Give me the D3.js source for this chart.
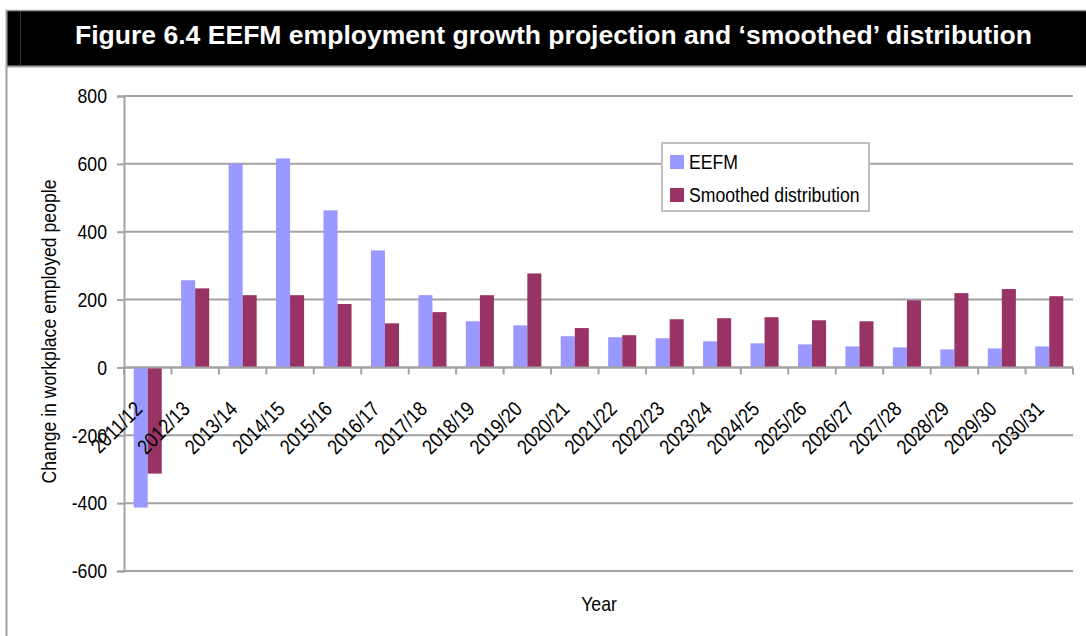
<!DOCTYPE html>
<html>
<head>
<meta charset="utf-8">
<script src="https://cdn.jsdelivr.net/npm/d3@7"></script>
<style>
  html, body { margin: 0; padding: 0; background: #ffffff; }
  svg { display: block; }
  text { font-family: "Liberation Sans", Arial, sans-serif; }
</style>
</head>
<body>
<svg id="chart" width="1086" height="636"></svg>
<script>
// Financial years on the category axis
const categories = ["2011/12", "2012/13", "2013/14", "2014/15", "2015/16", "2016/17", "2017/18",
  "2018/19", "2019/20", "2020/21", "2021/22", "2022/23", "2023/24", "2024/25", "2025/26",
  "2026/27", "2027/28", "2028/29", "2029/30", "2030/31"];

// Change in workplace employed people, per year
const eefm = [-413, 257, 601, 616, 463, 345, 213, 136, 124, 92, 89, 86, 77, 71, 68, 62, 59, 53, 56, 62];
const smoothed = [-313, 233, 213, 213, 187, 130, 163, 213, 277, 116, 95, 142, 145, 148, 139, 136, 198, 219, 231, 210];

const seriesNames = ["EEFM", "Smoothed distribution"];
const seriesColors = ["#9999ff", "#993366"];
const yTicks = [-600, -400, -200, 0, 200, 400, 600, 800];

const titleText = "Figure 6.4 EEFM employment growth projection and \u2018smoothed\u2019 distribution";

const svg = d3.select("#chart");
const W = 1086, H = 636;
const FS = 21;

// Narrow-width text: squeeze each label's glyphs horizontally
const NARROW = 0.84;
function condense(sel) {
  sel.each(function () {
    const len = this.getComputedTextLength();
    d3.select(this).attr("textLength", len * NARROW).attr("lengthAdjust", "spacingAndGlyphs");
  });
}

// ---- frame and title banner ----
svg.append("rect").attr("x", 7).attr("y", 11).attr("width", W - 7).attr("height", 55).attr("fill", "#000");
svg.append("line").attr("x1", 6).attr("x2", W).attr("y1", 10.5).attr("y2", 10.5).attr("stroke", "#a0a0a0").attr("stroke-width", 1.5);
svg.append("line").attr("x1", 6).attr("x2", W).attr("y1", 66.5).attr("y2", 66.5).attr("stroke", "#a0a0a0").attr("stroke-width", 2);
svg.append("line").attr("x1", 6.5).attr("x2", 6.5).attr("y1", 10).attr("y2", H).attr("stroke", "#a0a0a0").attr("stroke-width", 2);
svg.append("line").attr("x1", 20.5).attr("x2", 20.5).attr("y1", 11).attr("y2", 66).attr("stroke", "#3a3a3a").attr("stroke-width", 1);

svg.append("text")
  .attr("x", 75).attr("y", 44)
  .attr("fill", "#fff")
  .attr("font-weight", "bold")
  .attr("font-size", 26)
  .attr("textLength", 957)
  .attr("lengthAdjust", "spacingAndGlyphs")
  .text(titleText);

// ---- plot area ----
const plotLeft = 124, plotRight = 1073, plotTop = 96, plotBottom = 571;

const x = d3.scaleBand().domain(categories).range([plotLeft, plotRight]).padding(0);
const xs = d3.scaleBand().domain(seriesNames).range([0, x.bandwidth()]).paddingInner(0).paddingOuter(0.69);
const y = d3.scaleLinear().domain([-600, 800]).range([plotBottom, plotTop]);

const gridColor = "#a3a3a3";

// horizontal gridlines
svg.append("g")
  .selectAll("line")
  .data(yTicks)
  .join("line")
  .attr("x1", plotLeft).attr("x2", plotRight)
  .attr("y1", d => y(d)).attr("y2", d => y(d))
  .attr("stroke", gridColor).attr("stroke-width", 2);

// y axis
const yAxis = d3.axisLeft(y).tickValues(yTicks).tickSize(7).tickPadding(10).tickFormat(d => String(d));
const gy = svg.append("g").attr("transform", `translate(${plotLeft},0)`).call(yAxis);
gy.attr("font-family", null).attr("font-size", null);
gy.select(".domain").attr("stroke", gridColor).attr("stroke-width", 2);
gy.selectAll(".tick line").attr("stroke", gridColor).attr("stroke-width", 2);
gy.selectAll(".tick text")
  .attr("font-size", FS)
  .attr("fill", "#000")
  .call(condense);

// bars
const seriesData = [eefm, smoothed];
seriesData.forEach((vals, si) => {
  svg.append("g")
    .selectAll("rect")
    .data(vals)
    .join("rect")
    .attr("x", (d, i) => x(categories[i]) + xs(seriesNames[si]))
    .attr("width", xs.bandwidth())
    .attr("y", d => y(Math.max(0, d)))
    .attr("height", d => Math.abs(y(d) - y(0)))
    .attr("fill", seriesColors[si]);
});

// x axis at zero, ticks between categories
const y0 = y(0);
svg.append("line")
  .attr("x1", plotLeft).attr("x2", plotRight)
  .attr("y1", y0).attr("y2", y0)
  .attr("stroke", gridColor).attr("stroke-width", 2);
const boundaries = categories.map(c => x(c)).concat([plotRight]);
svg.append("g")
  .selectAll("line")
  .data(boundaries)
  .join("line")
  .attr("x1", d => d).attr("x2", d => d)
  .attr("y1", y0).attr("y2", y0 + 7)
  .attr("stroke", gridColor).attr("stroke-width", 2);

// rotated category labels
svg.append("g")
  .selectAll("text")
  .data(categories)
  .join("text")
  .attr("font-size", FS)
  .attr("fill", "#000")
  .attr("text-anchor", "end")
  .attr("transform", d => `translate(${x(d) + x.bandwidth() / 2 - 4},${y0 + 43}) rotate(-45)`)
  .text(d => d)
  .call(condense);

// axis titles
svg.append("text")
  .attr("font-size", FS)
  .attr("text-anchor", "middle")
  .attr("x", 599).attr("y", 611)
  .text("Year")
  .call(condense);

svg.append("text")
  .attr("font-size", FS)
  .attr("text-anchor", "middle")
  .attr("transform", `translate(56,${(plotTop + plotBottom) / 2 - 2}) rotate(-90)`)
  .text("Change in workplace employed people")
  .call(condense);

// legend
const lg = svg.append("g").attr("transform", "translate(662,143)");
lg.append("rect").attr("x", 0).attr("y", 0).attr("width", 207).attr("height", 68)
  .attr("fill", "#fff").attr("stroke", "#c0c0c0").attr("stroke-width", 2);
seriesNames.forEach((name, i) => {
  lg.append("rect").attr("x", 8).attr("y", 12 + i * 33).attr("width", 14).attr("height", 14).attr("fill", seriesColors[i]);
  lg.append("text").attr("font-size", FS).attr("x", 27).attr("y", 26 + i * 33)
    .attr("fill", "#000").text(name).call(condense);
});
</script>
</body>
</html>
